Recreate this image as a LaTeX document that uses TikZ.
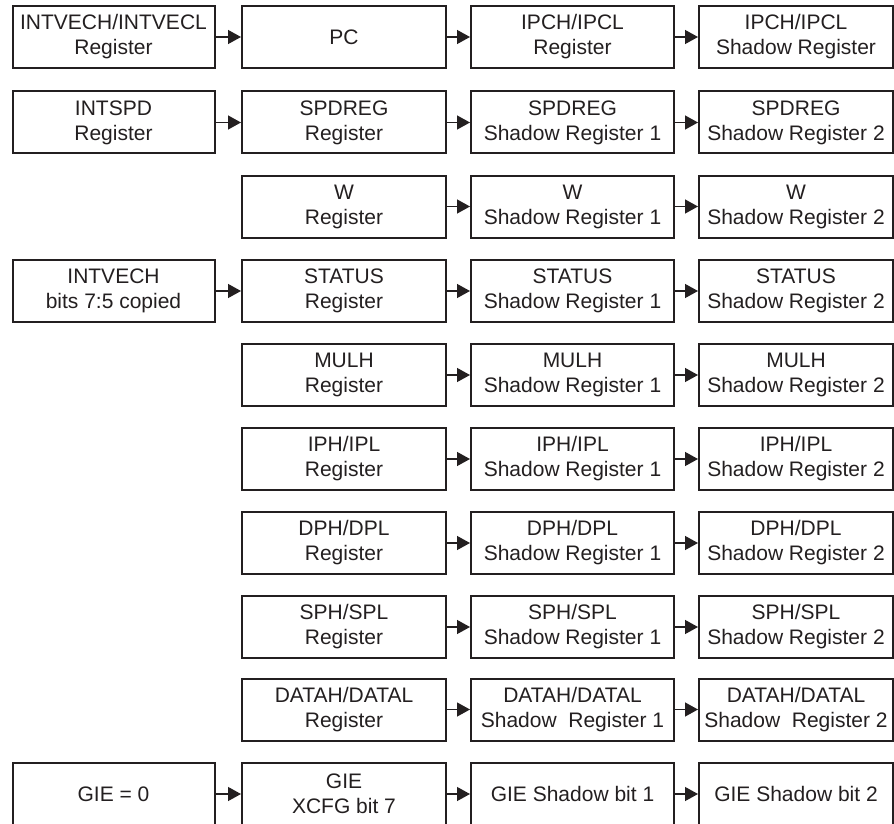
\documentclass[tikz,border=0pt]{standalone}
\usepackage{fontspec}
\setmainfont{Liberation Sans}
\usetikzlibrary{arrows.meta}
\definecolor{ink}{HTML}{231F20}
\begin{document}
\begin{tikzpicture}[x=1pt,y=-1pt,
  reg/.style={draw=ink, line width=2pt, minimum height=62pt, inner sep=0pt,
    align=center, text=ink, font=\fontsize{21}{25}\selectfont},
  c1/.style={reg, minimum width=202pt},
  c2/.style={reg, minimum width=204pt},
  c3/.style={reg, minimum width=203pt},
  c4/.style={reg, minimum width=194pt},
  conn/.style={draw=ink, line width=1.3pt, -{Triangle[length=13pt,width=14pt]}}]
\useasboundingbox (0,0) rectangle (894,824);
% column centres: 113.5, 344, 572.5, 796
% row 1
\node[c1] (a1) at (113.5,37) {INTVECH/INTVECL\\Register};
\node[c2] (b1) at (344,37) {PC};
\node[c3] (c1) at (572.5,37) {IPCH/IPCL\\Register};
\node[c4] (d1) at (796,37) {IPCH/IPCL\\Shadow Register};
% row 2
\node[c1] (a2) at (113.5,122.5) {INTSPD\\Register};
\node[c2] (b2) at (344,122.5) {SPDREG\\Register};
\node[c3] (c2) at (572.5,122.5) {SPDREG\\Shadow Register 1};
\node[c4] (d2) at (796,122.5) {SPDREG\\Shadow Register 2};
% row 3
\node[c2] (b3) at (344,206.5) {W\\Register};
\node[c3] (c3) at (572.5,206.5) {W\\Shadow Register 1};
\node[c4] (d3) at (796,206.5) {W\\Shadow Register 2};
% row 4
\node[c1] (a4) at (113.5,291) {INTVECH\\bits 7:5 copied};
\node[c2] (b4) at (344,291) {STATUS\\Register};
\node[c3] (c4) at (572.5,291) {STATUS\\Shadow Register 1};
\node[c4] (d4) at (796,291) {STATUS\\Shadow Register 2};
% row 5
\node[c2] (b5) at (344,375) {MULH\\Register};
\node[c3] (c5) at (572.5,375) {MULH\\Shadow Register 1};
\node[c4] (d5) at (796,375) {MULH\\Shadow Register 2};
% row 6
\node[c2] (b6) at (344,459) {IPH/IPL\\Register};
\node[c3] (c6) at (572.5,459) {IPH/IPL\\Shadow Register 1};
\node[c4] (d6) at (796,459) {IPH/IPL\\Shadow Register 2};
% row 7
\node[c2] (b7) at (344,543) {DPH/DPL\\Register};
\node[c3] (c7) at (572.5,543) {DPH/DPL\\Shadow Register 1};
\node[c4] (d7) at (796,543) {DPH/DPL\\Shadow Register 2};
% row 8
\node[c2] (b8) at (344,627) {SPH/SPL\\Register};
\node[c3] (c8) at (572.5,627) {SPH/SPL\\Shadow Register 1};
\node[c4] (d8) at (796,627) {SPH/SPL\\Shadow Register 2};
% row 9
\node[c2] (b9) at (344,709.5) {DATAH/DATAL\\Register};
\node[c3] (c9) at (572.5,709.5) {DATAH/DATAL\\Shadow\ \ Register 1};
\node[c4] (d9) at (796,709.5) {DATAH/DATAL\\Shadow\ \ Register 2};
% row 10
\node[c1] (a10) at (113.5,794) {GIE = 0};
\node[c2] (b10) at (344,794) {GIE\\XCFG bit 7};
\node[c3] (c10) at (572.5,794) {GIE Shadow bit 1};
\node[c4] (d10) at (796,794) {GIE Shadow bit 2};
% connectors
\foreach \r in {1,2,4,10} { \draw[conn] (a\r) -- (b\r); }
\foreach \r in {1,...,10} { \draw[conn] (b\r) -- (c\r); \draw[conn] (c\r) -- (d\r); }
\end{tikzpicture}
\end{document}
